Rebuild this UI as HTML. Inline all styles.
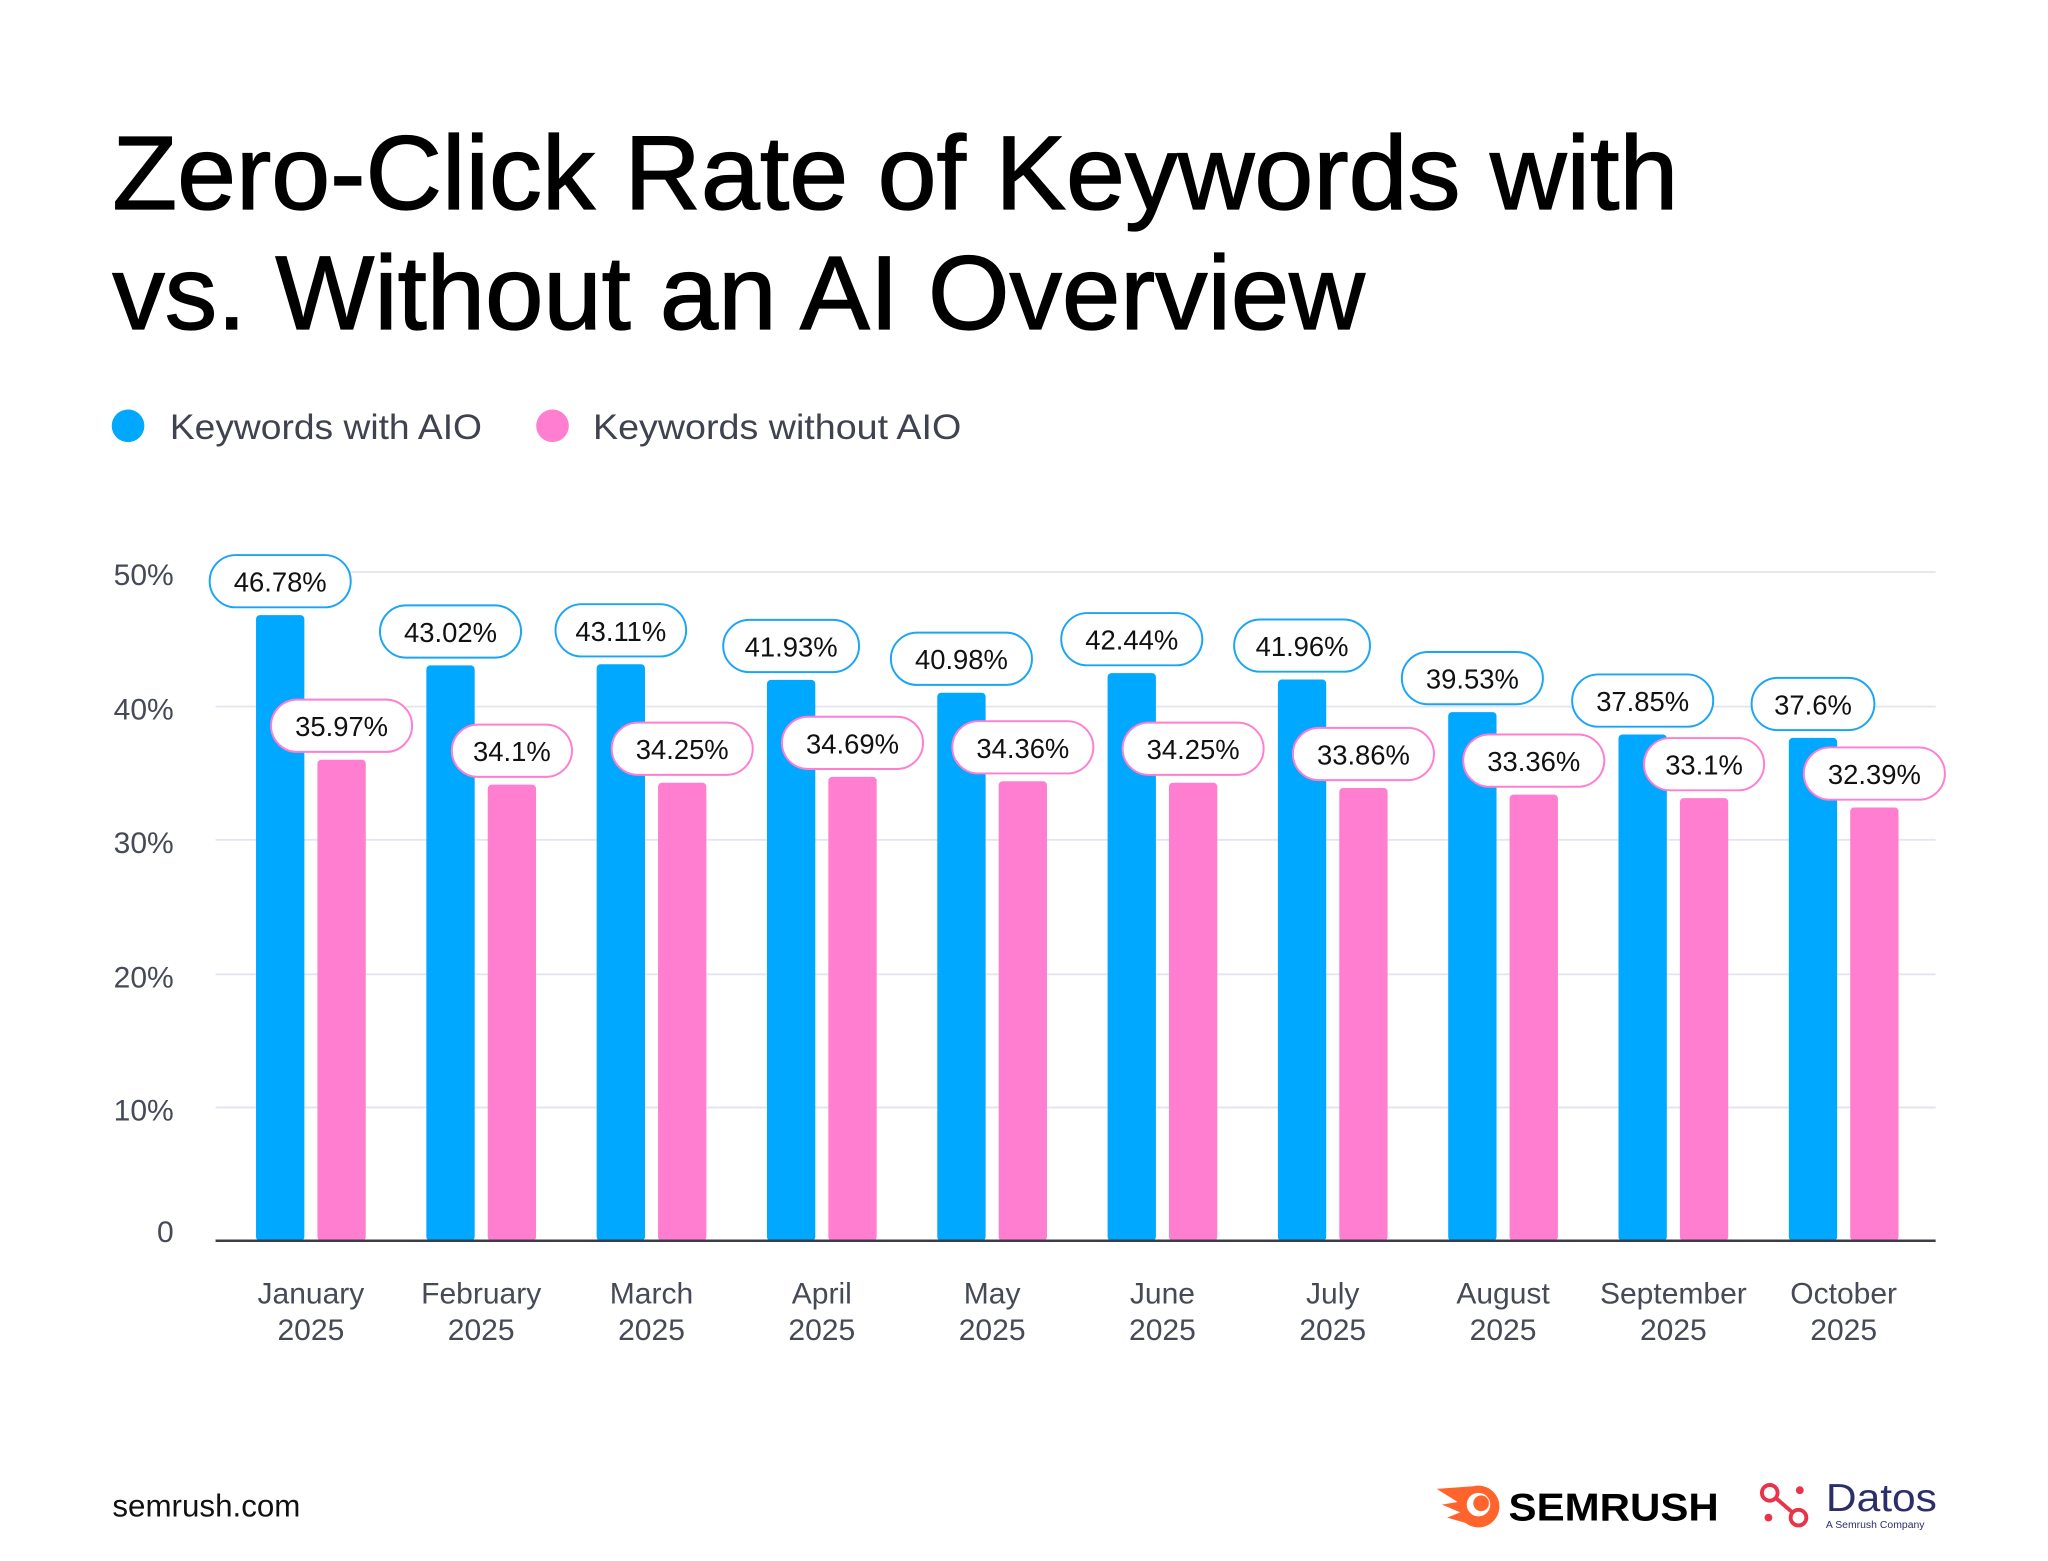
<!DOCTYPE html>
<html><head><meta charset="utf-8"><style>
html,body{margin:0;padding:0;background:#fff}
svg{display:block}
text{font-family:"Liberation Sans",sans-serif}
.t{font-size:21px;fill:#111;text-anchor:middle}
.ax{font-size:23px;fill:#454a56}
.xl{font-size:23px;fill:#454a56;text-anchor:middle}
.b{fill:#00A8FF}.p{fill:#FF7ED0}
.pb{fill:#fff;stroke:#1AA5F5;stroke-width:1.5}
.pp{fill:#fff;stroke:#FF7ED0;stroke-width:1.5}
</style></head><body>
<svg width="2048" height="1561" viewBox="0 0 1568 1195.2" xmlns="http://www.w3.org/2000/svg">
<rect width="1568" height="1196" fill="#fff"/>
<text x="86" y="160" font-size="80" fill="#000" stroke="#000" stroke-width="1" textLength="1199" lengthAdjust="spacingAndGlyphs">Zero-Click Rate of Keywords with</text>
<text x="86" y="252" font-size="80" fill="#000" stroke="#000" stroke-width="1" textLength="959" lengthAdjust="spacingAndGlyphs">vs. Without an AI Overview</text>
<circle cx="98" cy="326" r="12.5" fill="#00A8FF"/>
<text x="130" y="336" font-size="27" fill="#3f4350" textLength="239" lengthAdjust="spacingAndGlyphs">Keywords with AIO</text>
<circle cx="423" cy="326" r="12.5" fill="#FF7ED0"/>
<text x="454" y="336" font-size="27" fill="#3f4350" textLength="282" lengthAdjust="spacingAndGlyphs">Keywords without AIO</text>
<g stroke="#e3e6ef" stroke-width="1.5">
<line x1="165" x2="1482" y1="438" y2="438"/><line x1="165" x2="1482" y1="541" y2="541"/><line x1="165" x2="1482" y1="643" y2="643"/><line x1="165" x2="1482" y1="746" y2="746"/><line x1="165" x2="1482" y1="848" y2="848"/>
</g>
<g class="ax" text-anchor="end">
<text x="133" y="448">50%</text><text x="133" y="551">40%</text><text x="133" y="653">30%</text><text x="133" y="756">20%</text><text x="133" y="858">10%</text><text x="133" y="951">0</text>
</g>
<g>
<rect class="b" x="196" y="471" width="37" height="479" rx="3"/><rect class="p" x="243" y="581.7" width="37" height="368.3" rx="3"/>
<rect class="b" x="326.4" y="509.5" width="37" height="440.5" rx="3"/><rect class="p" x="373.4" y="600.8" width="37" height="349.2" rx="3"/>
<rect class="b" x="456.8" y="508.6" width="37" height="441.4" rx="3"/><rect class="p" x="503.8" y="599.3" width="37" height="350.7" rx="3"/>
<rect class="b" x="587.2" y="520.6" width="37" height="429.4" rx="3"/><rect class="p" x="634.2" y="594.8" width="37" height="355.2" rx="3"/>
<rect class="b" x="717.6" y="530.4" width="37" height="419.6" rx="3"/><rect class="p" x="764.6" y="598.2" width="37" height="351.8" rx="3"/>
<rect class="b" x="848" y="515.4" width="37" height="434.6" rx="3"/><rect class="p" x="895" y="599.3" width="37" height="350.7" rx="3"/>
<rect class="b" x="978.4" y="520.3" width="37" height="429.7" rx="3"/><rect class="p" x="1025.4" y="603.3" width="37" height="346.7" rx="3"/>
<rect class="b" x="1108.8" y="545.2" width="37" height="404.8" rx="3"/><rect class="p" x="1155.8" y="608.4" width="37" height="341.6" rx="3"/>
<rect class="b" x="1239.2" y="562.4" width="37" height="387.6" rx="3"/><rect class="p" x="1286.2" y="611.1" width="37" height="338.9" rx="3"/>
<rect class="b" x="1369.6" y="565" width="37" height="385" rx="3"/><rect class="p" x="1416.6" y="618.3" width="37" height="331.7" rx="3"/>
</g>
<line x1="165" x2="1482" y1="950" y2="950" stroke="#3a3d47" stroke-width="2"/>
<!-- blue pills -->
<rect class="pb" x="160.5" y="425" width="108" height="40" rx="20"/><text class="t" x="214.5" y="453">46.78%</text>
<rect class="pb" x="290.9" y="463.5" width="108" height="40" rx="20"/><text class="t" x="344.9" y="491.5">43.02%</text>
<rect class="pb" x="425.3" y="462.6" width="100" height="40" rx="20"/><text class="t" x="475.3" y="490.6">43.11%</text>
<rect class="pb" x="553.7" y="474.6" width="104" height="40" rx="20"/><text class="t" x="605.7" y="502.6">41.93%</text>
<rect class="pb" x="682.1" y="484.4" width="108" height="40" rx="20"/><text class="t" x="736.1" y="512.4">40.98%</text>
<rect class="pb" x="812.5" y="469.4" width="108" height="40" rx="20"/><text class="t" x="866.5" y="497.4">42.44%</text>
<rect class="pb" x="944.9" y="474.3" width="104" height="40" rx="20"/><text class="t" x="996.9" y="502.3">41.96%</text>
<rect class="pb" x="1073.3" y="499.2" width="108" height="40" rx="20"/><text class="t" x="1127.3" y="527.2">39.53%</text>
<rect class="pb" x="1203.7" y="516.4" width="108" height="40" rx="20"/><text class="t" x="1257.7" y="544.4">37.85%</text>
<rect class="pb" x="1341.1" y="519" width="94" height="40" rx="20"/><text class="t" x="1388.1" y="547">37.6%</text>
<!-- pink pills -->
<rect class="pp" x="207.5" y="535.7" width="108" height="40" rx="20"/><text class="t" x="261.5" y="563.7">35.97%</text>
<rect class="pp" x="345.9" y="554.8" width="92" height="40" rx="20"/><text class="t" x="391.9" y="582.8">34.1%</text>
<rect class="pp" x="468.3" y="553.3" width="108" height="40" rx="20"/><text class="t" x="522.3" y="581.3">34.25%</text>
<rect class="pp" x="598.7" y="548.8" width="108" height="40" rx="20"/><text class="t" x="652.7" y="576.8">34.69%</text>
<rect class="pp" x="729.1" y="552.2" width="108" height="40" rx="20"/><text class="t" x="783.1" y="580.2">34.36%</text>
<rect class="pp" x="859.5" y="553.3" width="108" height="40" rx="20"/><text class="t" x="913.5" y="581.3">34.25%</text>
<rect class="pp" x="989.9" y="557.3" width="108" height="40" rx="20"/><text class="t" x="1043.9" y="585.3">33.86%</text>
<rect class="pp" x="1120.3" y="562.4" width="108" height="40" rx="20"/><text class="t" x="1174.3" y="590.4">33.36%</text>
<rect class="pp" x="1258.7" y="565.1" width="92" height="40" rx="20"/><text class="t" x="1304.7" y="593.1">33.1%</text>
<rect class="pp" x="1381.1" y="572.3" width="108" height="40" rx="20"/><text class="t" x="1435.1" y="600.3">32.39%</text>
<!-- x labels -->
<g class="xl">
<text x="238" y="998">January</text><text x="238" y="1026">2025</text>
<text x="368.4" y="998">February</text><text x="368.4" y="1026">2025</text>
<text x="498.8" y="998">March</text><text x="498.8" y="1026">2025</text>
<text x="629.2" y="998">April</text><text x="629.2" y="1026">2025</text>
<text x="759.6" y="998">May</text><text x="759.6" y="1026">2025</text>
<text x="890" y="998">June</text><text x="890" y="1026">2025</text>
<text x="1020.4" y="998">July</text><text x="1020.4" y="1026">2025</text>
<text x="1150.8" y="998">August</text><text x="1150.8" y="1026">2025</text>
<text x="1281.2" y="998">September</text><text x="1281.2" y="1026">2025</text>
<text x="1411.6" y="998">October</text><text x="1411.6" y="1026">2025</text>
</g>
<text x="86" y="1161" font-size="24" fill="#111">semrush.com</text>
<!-- semrush logo -->
<g>
<path d="M1100 1140 L1128 1138 A16 16 0 1 1 1122 1166 L1108 1162 L1118 1158 L1104 1152 L1116 1150 Z" fill="#FF642D"/>
<circle cx="1132" cy="1152" r="9" fill="#fff"/>
<circle cx="1134" cy="1151" r="6" fill="#FF642D"/>
<text x="1155" y="1164" font-size="30" font-weight="bold" fill="#000" textLength="161" lengthAdjust="spacingAndGlyphs">SEMRUSH</text>
</g>
<!-- datos logo -->
<g>
<line x1="1355" y1="1143" x2="1377" y2="1162" stroke="#E8334A" stroke-width="3"/>
<circle cx="1355" cy="1143" r="6" fill="#fff" stroke="#E8334A" stroke-width="3"/>
<circle cx="1377" cy="1162" r="6" fill="#fff" stroke="#E8334A" stroke-width="3"/>
<circle cx="1378" cy="1141" r="3" fill="#E8334A"/>
<circle cx="1354" cy="1162" r="3" fill="#E8334A"/>
<text x="1398" y="1157" font-size="30" fill="#2B2E6B" textLength="85" lengthAdjust="spacingAndGlyphs">Datos</text>
<text x="1398" y="1170" font-size="8" fill="#2B2E6B">A Semrush Company</text>
</g>
</svg>
</body></html>
